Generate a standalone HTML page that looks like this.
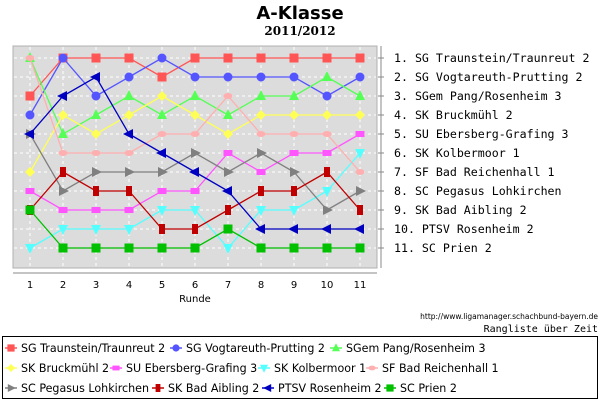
<!DOCTYPE html>
<html><head><meta charset="utf-8"><style>
body{margin:0;background:#fff;width:600px;height:400px;overflow:hidden;font-family:"DejaVu Sans","Liberation Sans",sans-serif}
svg{position:absolute;left:0;top:0}
</style></head><body>
<svg width="600" height="400" xmlns="http://www.w3.org/2000/svg">
<text x="300" y="19" text-anchor="middle" font-size="18" font-weight="bold" font-family="DejaVu Sans, sans-serif">A-Klasse</text>
<text x="300" y="35" text-anchor="middle" font-size="12" font-weight="bold" font-family="DejaVu Serif, serif">2011/2012</text>
<rect x="13" y="46" width="364" height="222" fill="#dcdcdc" stroke="#b0b0b0"/>
<g id="grid"></g>
<line x1="13" y1="273" x2="377" y2="273" stroke="#888"/>
<line x1="381" y1="46" x2="381" y2="268" stroke="#888"/>
<g id="xticks" font-size="10" font-family="DejaVu Sans, sans-serif"></g>
<g id="labels" font-size="11.6" font-family="DejaVu Sans Mono, Liberation Mono, monospace"></g>
<text x="195" y="302" text-anchor="middle" font-size="10">Runde</text>
<g id="series"></g>
<text x="598" y="319" text-anchor="end" font-size="7.5">http://www.ligamanager.schachbund-bayern.de</text>
<text x="598" y="332" text-anchor="end" font-size="10" font-family="DejaVu Sans Mono, monospace">Rangliste über Zeit</text>
<rect x="2.5" y="336.5" width="595" height="62" fill="#fff" stroke="#000"/>
<g id="legend" font-size="11.1"></g>
</svg>
<script>
const rounds=[1,2,3,4,5,6,7,8,9,10,11];
const teams=["SG Traunstein/Traunreut 2","SG Vogtareuth-Prutting 2","SGem Pang/Rosenheim 3","SK Bruckmühl 2","SU Ebersberg-Grafing 3","SK Kolbermoor 1","SF Bad Reichenhall 1","SC Pegasus Lohkirchen","SK Bad Aibling 2","PTSV Rosenheim 2","SC Prien 2"];
const rTraunstein=[3,1,1,1,2,1,1,1,1,1,1];
const rVogtareuth=[4,1,3,2,1,2,2,2,2,3,2];
const rPang=[1,5,4,3,4,3,4,3,3,2,3];
const rBruckmuehl=[7,4,5,4,3,4,5,4,4,4,4];
const rEbersberg=[8,9,9,9,8,8,6,7,6,6,5];
const rKolbermoor=[11,10,10,10,9,9,11,9,9,8,6];
const rReichenhall=[1,6,6,6,5,5,3,5,5,5,7];
const rPegasus=[5,8,7,7,7,6,7,6,7,9,8];
const rAibling=[9,7,8,8,10,10,9,8,8,7,9];
const rPTSV=[5,3,2,5,6,7,8,10,10,10,10];
const rPrien=[9,11,11,11,11,11,10,11,11,11,11];
const seriesData=[rTraunstein,rVogtareuth,rPang,rBruckmuehl,rEbersberg,rKolbermoor,rReichenhall,rPegasus,rAibling,rPTSV,rPrien];
const colors=["#ff5555","#5555ff","#55ff55","#ffff55","#ff55ff","#55ffff","#ffafaf","#808080","#c00000","#0000c0","#00c000"];
const shapes=["square","circle","up","diamond","rect","down","ellipse","right","tall","left","square"];
const NS="http://www.w3.org/2000/svg";
const X=r=>30+(r-1)*33, Y=k=>58+(k-1)*19;
function mk(t,a,p){const e=document.createElementNS(NS,t);for(const k in a)e.setAttribute(k,a[k]);p.appendChild(e);return e;}
function marker(s,x,y,c,p,sc){sc=sc||1;
 if(s==="square")return mk("rect",{x:x-4.5*sc,y:y-4.5*sc,width:9*sc,height:9*sc,fill:c},p);
 if(s==="circle")return mk("circle",{cx:x,cy:y,r:4.5*sc,fill:c},p);
 if(s==="rect")return mk("rect",{x:x-4.5*sc,y:y-3*sc,width:9*sc,height:6*sc,fill:c},p);
 if(s==="tall")return mk("rect",{x:x-3*sc,y:y-5*sc,width:6*sc,height:10*sc,fill:c},p);
 if(s==="ellipse")return mk("ellipse",{cx:x,cy:y,rx:4.5*sc,ry:3*sc,fill:c},p);
 let pts;
 if(s==="up")pts=[[0,-6],[5,4],[-5,4]];
 if(s==="down")pts=[[0,6],[5,-4],[-5,-4]];
 if(s==="diamond")pts=[[0,-5],[5,0],[0,5],[-5,0]];
 if(s==="right")pts=[[6,0],[-4,-5],[-4,5]];
 if(s==="left")pts=[[-6,0],[4,-5],[4,5]];
 return mk("polygon",{points:pts.map(q=>(x+q[0]*sc)+","+(y+q[1]*sc)).join(" "),fill:c},p);
}
const grid=document.getElementById("grid");
rounds.forEach(r=>{const l=mk("line",{x1:X(r),y1:47,x2:X(r),y2:267,stroke:"#fff","stroke-dasharray":"3,3"},grid);

});
teams.forEach((t,i)=>{const l=mk("line",{x1:14,y1:Y(i+1),x2:376,y2:Y(i+1),stroke:"#fff","stroke-dasharray":"3,3"},grid);

});
const xt=document.getElementById("xticks");
rounds.forEach(r=>{const t=mk("text",{x:X(r),y:288,"text-anchor":"middle"},xt);t.textContent=r;

});
const lb=document.getElementById("labels");
teams.forEach((t,i)=>{const tk=mk("line",{x1:378,y1:Y(i+1),x2:384,y2:Y(i+1),stroke:"#888"},lb);


const e=mk("text",{x:394,y:Y(i+1)+4},lb);e.textContent=(i+1)+". "+t;

});
const sg=document.getElementById("series");
seriesData.forEach((d,i)=>{const g=mk("g",{},sg);


const pl=mk("polyline",{points:d.map((v,j)=>X(rounds[j])+","+Y(v)).join(" "),fill:"none",stroke:colors[i],"stroke-width":1.3},g);


d.forEach((v,j)=>{const m=marker(shapes[i],X(rounds[j]),Y(v),colors[i],g);

});});
const lg=document.getElementById("legend");
const lpos=[[5,352],[170,352],[330,352],[5,372],[110,372],[258,372],[366,372],[5,392],[152,392],[262,392],[384,392]];
teams.forEach((t,i)=>{const [x,y]=lpos[i];const g=mk("g",{},lg);


mk("line",{x1:x,y1:y-4,x2:x+12,y2:y-4,stroke:colors[i],"stroke-width":1.5},g);
marker(shapes[i],x+6,y-4,colors[i],g,0.8);
const e=mk("text",{x:x+16,y:y},g);e.textContent=t;});
</script>
</body></html>
